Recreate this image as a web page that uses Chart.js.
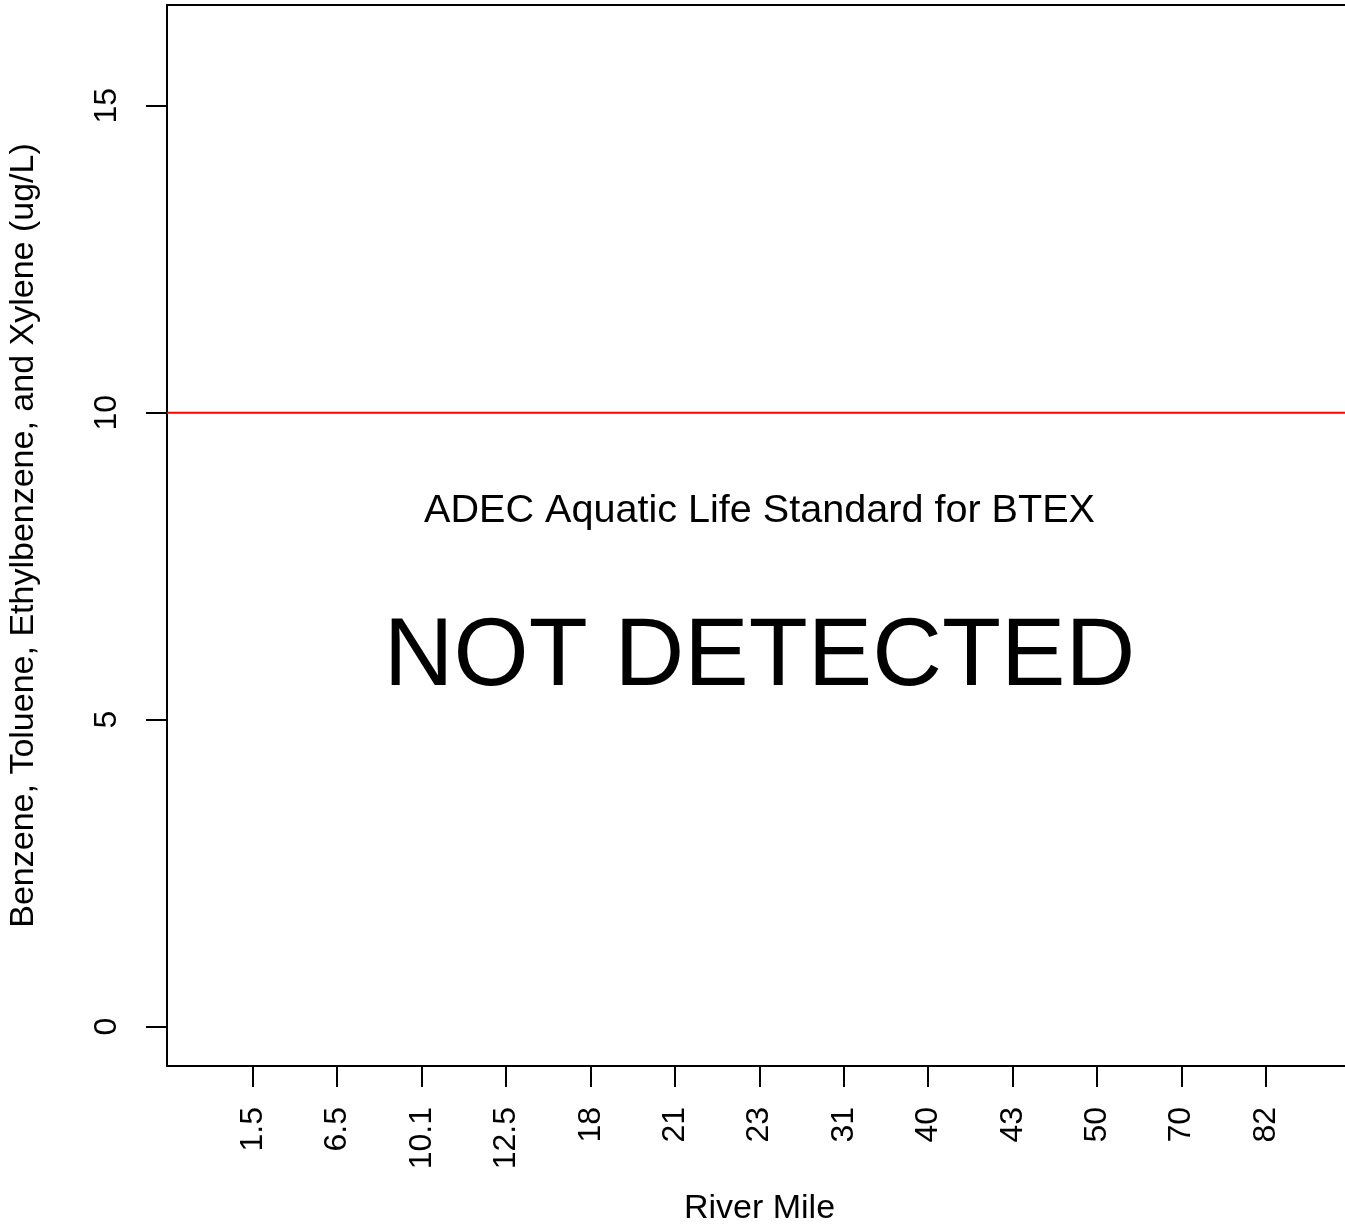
<!DOCTYPE html>
<html>
<head>
<meta charset="utf-8">
<script src="https://cdn.jsdelivr.net/npm/chart.js@4/dist/chart.umd.min.js"></script>
<style>
  html, body { margin: 0; padding: 0; background: #fff; overflow: hidden; }
  #wrap { width: 1360px; height: 1228px; position: relative; }
</style>
</head>
<body>
<div id="wrap"><canvas id="btexChart"></canvas></div>
<script>
// river mile stations (categories on the x axis)
const riverMiles = ['1.5', '6.5', '10.1', '12.5', '18', '21', '23', '31', '40', '43', '50', '70', '82'];
// BTEX results per station - nothing detected
const btexValues = [null, null, null, null, null, null, null, null, null, null, null, null, null];
const yTicks = [0, 5, 10, 15];
const standard = 10; // ADEC aquatic life standard, ug/L

const notes = ['ADEC Aquatic Life Standard for BTEX', 'NOT DETECTED'];
const noteX = [6, 6];
const noteY = [8.40, 6.0];
const noteSize = [39.6, 96.6];

const xMin = -1.02, xMax = 13.02;
const yMin = -0.64, yMax = 16.64;
const FONT = 'Liberation Sans, Arial, Helvetica, sans-serif';

// top edge of the box + the text labels
const extras = {
    id: 'extras',
    afterDraw(chart) {
        const ctx = chart.ctx;
        const area = chart.chartArea;
        const xs = chart.scales.x, ys = chart.scales.y;
        ctx.save();
        ctx.strokeStyle = '#000';
        ctx.lineWidth = 2;
        ctx.beginPath();
        ctx.moveTo(area.left - 1, area.top);
        ctx.lineTo(area.right, area.top);
        ctx.stroke();
        ctx.fillStyle = '#000';
        ctx.textAlign = 'center';
        ctx.textBaseline = 'middle';
        notes.forEach((t, i) => {
            ctx.font = noteSize[i] + 'px ' + FONT;
            ctx.fillText(t, xs.getPixelForValue(noteX[i]), ys.getPixelForValue(noteY[i]));
        });
        ctx.restore();
    }
};

//eslint-disable-next-line
const btexChart = new Chart(document.getElementById('btexChart'), {
    type: 'scatter',
    data: {
        datasets: [{
            label: 'BTEX',
            data: btexValues.map((v, i) => ({ x: i, y: v })),
            pointRadius: 0
        }, {
            label: 'Standard',
            type: 'line',
            data: [{ x: xMin, y: standard }, { x: xMax, y: standard }],
            borderColor: '#ff0000',
            borderWidth: 2,
            pointRadius: 0,
            fill: false
        }]
    },
    options: {
        responsive: true,
        maintainAspectRatio: false,
        animation: false,
        events: [],
        layout: { padding: { top: 5, right: 8, left: 0, bottom: 0 } },
        plugins: { legend: { display: false }, tooltip: { enabled: false } },
        scales: {
            x: {
                type: 'linear',
                min: xMin,
                max: xMax,
                afterBuildTicks: s => { s.ticks = riverMiles.map((m, i) => ({ value: i })); },
                afterFit: s => { s.height = 162; s.paddingLeft = 0; s.paddingRight = 0; },
                ticks: {
                    callback: (v, i) => riverMiles[i],
                    minRotation: 90,
                    maxRotation: 90,
                    autoSkip: false,
                    padding: 20,
                    color: '#000',
                    font: { family: FONT, size: 32 }
                },
                grid: { drawOnChartArea: false, tickLength: 21, color: '#000', lineWidth: 2 },
                border: { display: true, color: '#000', width: 2 },
                title: {
                    display: true,
                    text: 'River Mile',
                    color: '#000',
                    font: { family: FONT, size: 34, lineHeight: 1.12 },
                    padding: { top: 0, bottom: 0 }
                }
            },
            y: {
                min: yMin,
                max: yMax,
                afterBuildTicks: s => { s.ticks = yTicks.map(v => ({ value: v })); },
                afterFit: s => { s.width = 167; s.paddingTop = 0; s.paddingBottom = 0; },
                ticks: {
                    minRotation: 90,
                    maxRotation: 90,
                    crossAlign: 'center',
                    padding: 21,
                    color: '#000',
                    font: { family: FONT, size: 32 }
                },
                grid: { drawOnChartArea: false, tickLength: 21, color: '#000', lineWidth: 2 },
                border: { display: true, color: '#000', width: 2 },
                title: {
                    display: true,
                    text: 'Benzene, Toluene, Ethylbenzene, and Xylene (ug/L)',
                    color: '#000',
                    font: { family: FONT, size: 34 },
                    padding: { top: 3, bottom: 0 }
                }
            }
        }
    },
    plugins: [extras]
});
</script>
</body>
</html>
